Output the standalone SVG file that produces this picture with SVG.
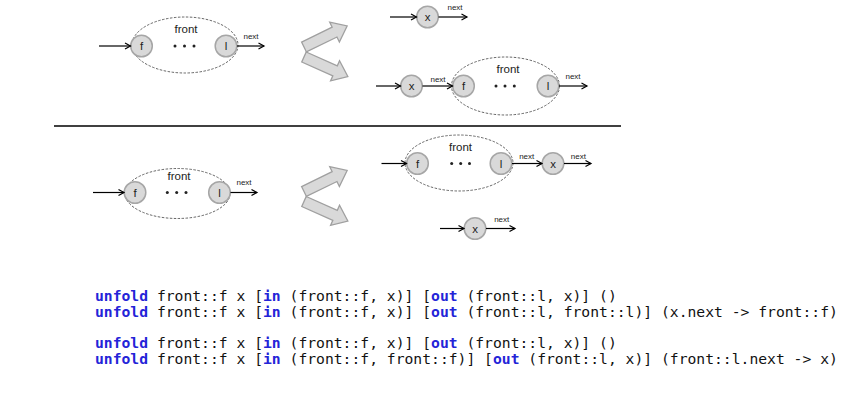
<svg xmlns="http://www.w3.org/2000/svg" width="841" height="401" viewBox="0 0 841 401">
<defs>
<marker id="ah" markerUnits="userSpaceOnUse" markerWidth="8" markerHeight="8" refX="6" refY="3.5" orient="auto" overflow="visible">
<path d="M0.5,0.5 L6,3.5 L0.5,6.5" fill="none" stroke="#000" stroke-width="1.2"/>
</marker>
<path id="bigarrow" d="M0,-5.5 L34,-5.5 L34,-11 L48,0 L34,11 L34,5.5 L0,5.5 Z"/>
</defs>
<style>
.node{fill:#d9d9d9;stroke:#a6a6a6;stroke-width:1.5}
.grp{fill:none;stroke:#404040;stroke-width:0.8;stroke-dasharray:2.5,1.5}
.lbl{font-family:"Liberation Sans","DejaVu Sans",sans-serif;font-size:11.5px;fill:#222;text-anchor:middle}
.front{font-family:"Liberation Sans","DejaVu Sans",sans-serif;font-size:11.5px;fill:#222;text-anchor:middle}
.nx{font-family:"Liberation Sans","DejaVu Sans",sans-serif;font-size:8px;fill:#222;text-anchor:middle}
.dot{fill:#222}
.conn{stroke:#000;stroke-width:1.2;fill:none;marker-end:url(#ah)}
.big{fill:#d9d9d9;stroke:#a0a0a0;stroke-width:1.3}
.code{font-family:"DejaVu Sans Mono","Liberation Mono",monospace;font-size:14.7px;fill:#111;white-space:pre}
.kw{font-weight:bold;fill:#2424d8}
</style>

<!-- top-left: front list -->
<g id="tl-front">
<ellipse class="grp" cx="185" cy="45" rx="53" ry="28"/>
<text class="front" x="186" y="33">front</text>
<circle class="dot" cx="175" cy="46" r="1.5"/><circle class="dot" cx="184.5" cy="46" r="1.5"/><circle class="dot" cx="194" cy="46" r="1.5"/>
</g>
<g id="tl-f"><circle class="node" cx="141.5" cy="46" r="10.8"/><text class="lbl" x="141.5" y="50">f</text></g>
<g id="tl-l"><circle class="node" cx="226" cy="46" r="10.8"/><text class="lbl" x="226" y="50">l</text></g>

<!-- top-right: single x -->
<g id="tr-x1"><circle class="node" cx="427.5" cy="17" r="10.8"/><text class="lbl" x="427.5" y="21">x</text></g>

<!-- top-right: x prepended to front -->
<g id="tr-x2"><circle class="node" cx="411.5" cy="86" r="10.8"/><text class="lbl" x="411.5" y="90">x</text></g>
<g id="tr-front">
<ellipse class="grp" cx="505.5" cy="86" rx="54" ry="29"/>
<text class="front" x="508" y="73">front</text>
<circle class="dot" cx="496" cy="86" r="1.5"/><circle class="dot" cx="505" cy="86" r="1.5"/><circle class="dot" cx="514.3" cy="86" r="1.5"/>
</g>
<g id="tr-f"><circle class="node" cx="463.5" cy="86" r="10.8"/><text class="lbl" x="463.5" y="90">f</text></g>
<g id="tr-l"><circle class="node" cx="548" cy="86" r="10.8"/><text class="lbl" x="548" y="90">l</text></g>

<!-- bottom-left: front list -->
<g id="bl-front">
<ellipse class="grp" cx="177.5" cy="193.5" rx="52.5" ry="25"/>
<text class="front" x="179" y="180">front</text>
<circle class="dot" cx="167.3" cy="192.5" r="1.5"/><circle class="dot" cx="176.7" cy="192.5" r="1.5"/><circle class="dot" cx="186" cy="192.5" r="1.5"/>
</g>
<g id="bl-f"><circle class="node" cx="135" cy="192.5" r="10.8"/><text class="lbl" x="135" y="196.5">f</text></g>
<g id="bl-l"><circle class="node" cx="219.5" cy="192.5" r="10.8"/><text class="lbl" x="219.5" y="196.5">l</text></g>

<!-- bottom-right: front with x appended -->
<g id="br-front">
<ellipse class="grp" cx="459" cy="163" rx="54" ry="28"/>
<text class="front" x="460.5" y="150.5">front</text>
<circle class="dot" cx="451.7" cy="163.5" r="1.5"/><circle class="dot" cx="460.7" cy="163.5" r="1.5"/><circle class="dot" cx="469.5" cy="163.5" r="1.5"/>
</g>
<g id="br-f"><circle class="node" cx="417.5" cy="163.5" r="10.8"/><text class="lbl" x="417.5" y="167.5">f</text></g>
<g id="br-l"><circle class="node" cx="501" cy="163.5" r="10.8"/><text class="lbl" x="501" y="167.5">l</text></g>
<g id="br-x1"><circle class="node" cx="553" cy="163.5" r="10.8"/><text class="lbl" x="553" y="167.5">x</text></g>
<g id="br-x2"><circle class="node" cx="475" cy="228.5" r="10.8"/><text class="lbl" x="475" y="232.5">x</text></g>

<!-- big transition arrows -->
<g id="transition-top">
<use href="#bigarrow" class="big" transform="translate(304,57) rotate(24)"/>
<use href="#bigarrow" class="big" transform="translate(304,47) rotate(-26)"/>
</g>
<g id="transition-bottom">
<use href="#bigarrow" class="big" transform="translate(304,201.5) rotate(24)"/>
<use href="#bigarrow" class="big" transform="translate(304,191.5) rotate(-26)"/>
</g>

<!-- separator -->
<line x1="54" y1="126" x2="621" y2="126" stroke="#000" stroke-width="1.5"/>

<!-- connectors -->
<g id="connectors">
<line class="conn" x1="99" y1="46" x2="130.5" y2="46"/>
<line class="conn" x1="237" y1="46" x2="264" y2="46"/>
<text class="nx" x="251" y="39">next</text>

<line class="conn" x1="390" y1="17" x2="416.5" y2="17"/>
<line class="conn" x1="438.5" y1="17" x2="467" y2="17"/>
<text class="nx" x="455" y="9.5">next</text>

<line class="conn" x1="376" y1="86" x2="400.5" y2="86"/>
<line class="conn" x1="422.5" y1="86" x2="452.5" y2="86"/>
<text class="nx" x="438" y="81.5">next</text>
<line class="conn" x1="559" y1="86" x2="587" y2="86"/>
<text class="nx" x="573" y="78.5">next</text>

<line class="conn" x1="93" y1="192.5" x2="124" y2="192.5"/>
<line class="conn" x1="230.5" y1="192.5" x2="257" y2="192.5"/>
<text class="nx" x="244" y="184.5">next</text>

<line class="conn" x1="381.5" y1="163.5" x2="406.5" y2="163.5"/>
<line class="conn" x1="512" y1="163.5" x2="542" y2="163.5"/>
<text class="nx" x="526.7" y="158.5">next</text>
<line class="conn" x1="564" y1="163.5" x2="591" y2="163.5"/>
<text class="nx" x="578.3" y="158.5">next</text>

<line class="conn" x1="440" y1="228.5" x2="464" y2="228.5"/>
<line class="conn" x1="486" y1="228.5" x2="515" y2="228.5"/>
<text class="nx" x="501.7" y="221.5">next</text>
</g>

<!-- code -->
<g id="code">
<text class="code" x="95" y="301"><tspan class="kw">unfold</tspan> front::f x [<tspan class="kw">in</tspan> (front::f, x)] [<tspan class="kw">out</tspan> (front::l, x)] ()</text>
<text class="code" x="95" y="317"><tspan class="kw">unfold</tspan> front::f x [<tspan class="kw">in</tspan> (front::f, x)] [<tspan class="kw">out</tspan> (front::l, front::l)] (x.next -&gt; front::f)</text>
<text class="code" x="95" y="348"><tspan class="kw">unfold</tspan> front::f x [<tspan class="kw">in</tspan> (front::f, x)] [<tspan class="kw">out</tspan> (front::l, x)] ()</text>
<text class="code" x="95" y="364"><tspan class="kw">unfold</tspan> front::f x [<tspan class="kw">in</tspan> (front::f, front::f)] [<tspan class="kw">out</tspan> (front::l, x)] (front::l.next -&gt; x)</text>
</g>
</svg>
